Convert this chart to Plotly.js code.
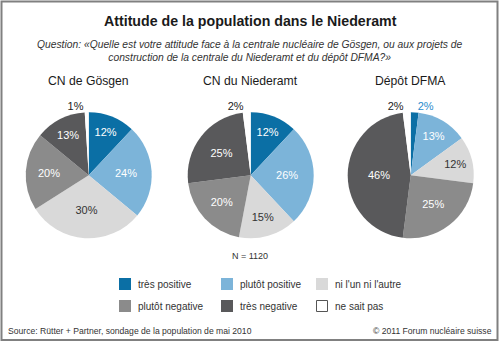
<!DOCTYPE html>
<html>
<head>
<meta charset="utf-8">
<script src="https://cdn.plot.ly/plotly-3.0.1.min.js"></script>
<style>html,body{margin:0;padding:0;background:#fff;}#chart{width:500px;height:342px;}</style>
</head>
<body>
<div id="chart"></div>
<script>
// ---- data ----
const categories = ['très positive', 'plutôt positive', "ni l'un ni l'autre", 'plutôt negative', 'très negative', 'ne sait pas'];
const sliceColors = ['#0b6fa5', '#7cb4d9', '#d9d9d9', '#8b8b8b', '#59595b', '#ffffff'];
const pieTitles = ['CN de Gösgen', 'CN du Niederamt', 'Dépôt DFMA'];
const valuesGosgen = [12, 24, 30, 20, 13, 1];
const valuesNiederamt = [12, 26, 15, 20, 25, 2];
const valuesDFMA = [2, 13, 12, 25, 46, 2];
const chartTitle = 'Attitude de la population dans le Niederamt';
const chartSubtitle = 'Question: «Quelle est votre attitude face à la centrale nucléaire de Gösgen, ou aux projets de<br>construction de la centrale du Niederamt et du dépôt DFMA?»';
const sampleNote = 'N = 1120';
const sourceNote = 'Source: Rütter + Partner, sondage de la population de mai 2010';
const copyrightNote = '© 2011 Forum nucléaire suisse';

// ---- layout helpers ----
const W = 500, H = 342;
const X = px => px / W;
const Y = py => 1 - py / H;
const FONT = '"Liberation Sans", Arial, sans-serif';

const allValues = [valuesGosgen, valuesNiederamt, valuesDFMA];
const centersX = [88.7, 250.7, 410.7];
const centerY = 175.3;
const R = 63;
const insideTextColors = ['#ffffff', '#ffffff', '#333333', '#ffffff', '#ffffff', '#333333'];
const outsideTextColors = ['#2a8ccc', '#2a8ccc', '#333333', '#333333', '#333333', '#222222'];

const traces = allValues.map((vals, k) => {
  const pos = vals.map(v => v < 5 ? 'outside' : 'inside');
  const tcol = vals.map((v, i) => v < 5 ? outsideTextColors[i] : insideTextColors[i]);
  return {
    type: 'pie',
    values: vals,
    labels: categories,
    sort: false,
    direction: 'clockwise',
    rotation: 0,
    marker: {colors: sliceColors, line: {color: '#ffffff', width: 0}},
    texttemplate: '%{value}%',
    textposition: pos,
    insidetextorientation: 'horizontal',
    textfont: {family: FONT, size: 11, color: tcol},
    hoverinfo: 'skip',
    showlegend: false,
    domain: {
      x: [X(centersX[k] - R), X(centersX[k] + R)],
      y: [1 - (centerY + R) / H, 1 - (centerY - R) / H]
    }
  };
});

const annotations = [
  {text: '<b>' + chartTitle + '</b>', x: 0.5, y: Y(21), font: {family: FONT, size: 14.2, color: '#1a1a1a'}},
  {text: '<i>' + chartSubtitle + '</i>', x: 0.5, y: Y(51), font: {family: FONT, size: 10.3, color: '#333333'}},
  {text: sampleNote, x: 0.5, y: Y(256), font: {family: FONT, size: 9, color: '#333333'}},
  {text: sourceNote, x: X(6), y: Y(331), xanchor: 'left', font: {family: FONT, size: 8.6, color: '#333333'}},
  {text: copyrightNote, x: X(494), y: Y(331), xanchor: 'right', font: {family: FONT, size: 8.6, color: '#333333'}}
].map(a => Object.assign({xref: 'paper', yref: 'paper', showarrow: false, xanchor: 'center', yanchor: 'middle'}, a));

pieTitles.forEach((t, k) => {
  annotations.push({text: t, xref: 'paper', yref: 'paper', x: X(centersX[k]), y: Y(81), showarrow: false,
    xanchor: 'center', yanchor: 'middle', font: {family: FONT, size: 12.2, color: '#1a1a1a'}});
});

const shapes = [
  {type: 'rect', xref: 'paper', yref: 'paper', x0: X(1.5), x1: X(497.5), y0: Y(340), y1: Y(1.5),
   line: {color: '#808080', width: 2}, fillcolor: 'rgba(0,0,0,0)'}
];
const legendColX = [119, 221, 316];
const legendRowY = [284, 306];
categories.forEach((c, i) => {
  const col = i % 3, row = Math.floor(i / 3);
  const x0 = legendColX[col], yc = legendRowY[row];
  const isWhite = sliceColors[i].toLowerCase() === '#ffffff';
  shapes.push({type: 'rect', xref: 'paper', yref: 'paper',
    x0: X(x0 + (isWhite ? 0.5 : 0)), x1: X(x0 + 12 - (isWhite ? 0.5 : 0)),
    y0: Y(yc + 6 - (isWhite ? 0.5 : 0)), y1: Y(yc - 6 + (isWhite ? 0.5 : 0)),
    fillcolor: sliceColors[i],
    line: {color: isWhite ? '#555555' : sliceColors[i], width: isWhite ? 1 : 0}});
  annotations.push({text: c, xref: 'paper', yref: 'paper', x: X(x0 + 17), y: Y(yc), showarrow: false,
    xanchor: 'left', yanchor: 'middle', font: {family: FONT, size: 10, color: '#333333'}});
});

const layout = {
  width: W, height: H,
  margin: {l: 0, r: 0, t: 0, b: 0},
  paper_bgcolor: '#ffffff',
  showlegend: false,
  annotations: annotations,
  shapes: shapes
};

Plotly.newPlot('chart', traces, layout, {displayModeBar: false, staticPlot: true});
</script>
</body>
</html>
